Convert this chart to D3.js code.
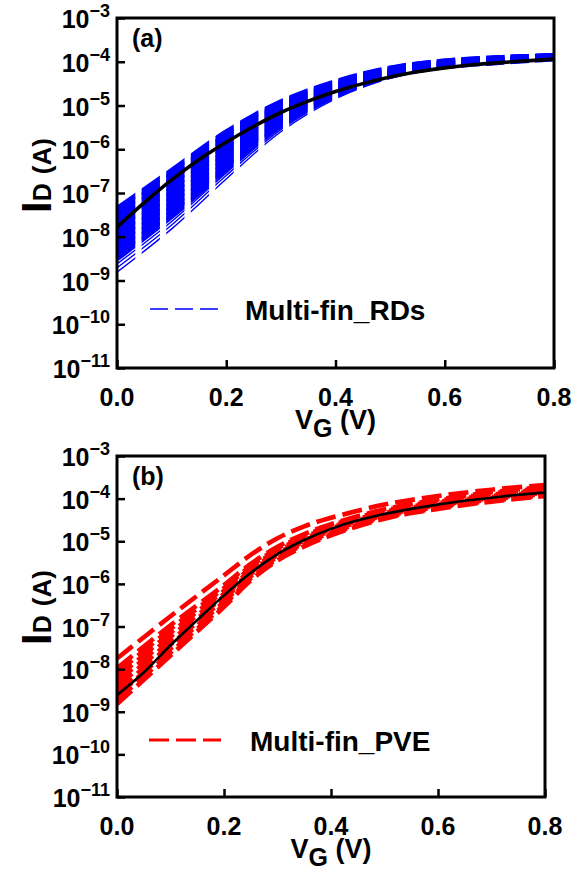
<!DOCTYPE html>
<html><head><meta charset="utf-8">
<script src="https://cdn.jsdelivr.net/npm/d3@7"></script>
<style>
body{margin:0;background:#fff}
text{font-family:"Liberation Sans",Arial,sans-serif;font-weight:bold;fill:#000}
</style>
</head><body>
<svg id="c" width="586" height="870"></svg>
<script>
// ---------- data ----------
const vgFine   = [0,0.05,0.1,0.15,0.2,0.25,0.3,0.35,0.4,0.45,0.5,0.55,0.6,0.65,0.7,0.75,0.8];
const vgCoarse = [0,0.1,0.2,0.3,0.4,0.5,0.6,0.7,0.8];
const vgRed    = [0,0.1,0.2,0.25,0.3,0.35,0.4,0.5,0.6,0.7,0.8];
const xTicks = [0,0.2,0.4,0.6,0.8];
const xTickLabels = ["0.0","0.2","0.4","0.6","0.8"];
const yTickExps = [-3,-4,-5,-6,-7,-8,-9,-10,-11];

// log10(I_D) of the reference (black) curves, on vgFine
const blackA = [-7.78,-7.22,-6.70,-6.24,-5.84,-5.48,-5.16,-4.90,-4.68,-4.50,-4.35,-4.23,-4.14,-4.07,-4.02,-3.98,-3.94];
const blackB = [-8.61,-8.08,-7.44,-6.85,-6.27,-5.74,-5.30,-4.97,-4.71,-4.51,-4.36,-4.24,-4.14,-4.05,-3.98,-3.91,-3.86];

// log10(I_D) of the Multi-fin_RDs curves, on vgCoarse
const rdsDense = [
  [-7.36,-6.49,-5.61,-4.92,-4.46,-4.15,-3.99,-3.91,-3.86],
  [-7.46,-6.58,-5.68,-4.96,-4.48,-4.16,-3.99,-3.91,-3.86],
  [-7.58,-6.69,-5.76,-5.01,-4.51,-4.18,-4.01,-3.92,-3.87],
  [-7.69,-6.79,-5.85,-5.07,-4.55,-4.20,-4.02,-3.93,-3.87],
  [-7.81,-6.90,-5.94,-5.12,-4.58,-4.22,-4.03,-3.95,-3.88],
  [-7.93,-7.01,-6.03,-5.18,-4.61,-4.24,-4.04,-3.96,-3.89],
  [-8.05,-7.12,-6.11,-5.24,-4.64,-4.26,-4.06,-3.97,-3.90],
  [-8.16,-7.23,-6.20,-5.29,-4.67,-4.27,-4.07,-3.98,-3.91],
  [-8.28,-7.33,-6.29,-5.35,-4.71,-4.29,-4.08,-3.99,-3.91],
  [-8.40,-7.44,-6.38,-5.40,-4.74,-4.31,-4.10,-4.00,-3.92],
  [-8.50,-7.53,-6.45,-5.45,-4.77,-4.33,-4.11,-4.01,-3.93]
];
const rdsSparse = [
  [-8.62,-7.65,-6.54,-5.51,-4.80,-4.35,-4.12,-4.02,-3.94],
  [-8.71,-7.73,-6.60,-5.55,-4.82,-4.36,-4.13,-4.03,-3.94],
  [-8.81,-7.82,-6.68,-5.60,-4.85,-4.38,-4.14,-4.04,-3.95]
];
// log10(I_D) of the Multi-fin_PVE curves, on vgRed
const pveCurves = [
  [-7.75,-6.76,-5.80,-5.32,-4.93,-4.65,-4.45,-4.14,-3.94,-3.79,-3.68],
  [-7.98,-6.97,-6.03,-5.53,-5.13,-4.83,-4.60,-4.25,-4.02,-3.85,-3.72],
  [-8.09,-7.06,-6.10,-5.58,-5.17,-4.87,-4.63,-4.28,-4.05,-3.88,-3.75],
  [-8.20,-7.15,-6.16,-5.63,-5.21,-4.90,-4.67,-4.31,-4.08,-3.91,-3.78],
  [-8.30,-7.24,-6.23,-5.68,-5.25,-4.94,-4.70,-4.34,-4.11,-3.94,-3.81],
  [-8.41,-7.34,-6.29,-5.73,-5.29,-4.98,-4.73,-4.37,-4.14,-3.97,-3.84],
  [-8.52,-7.43,-6.36,-5.77,-5.33,-5.01,-4.76,-4.39,-4.16,-3.99,-3.86],
  [-8.63,-7.52,-6.42,-5.82,-5.37,-5.05,-4.80,-4.42,-4.19,-4.02,-3.89],
  [-8.73,-7.61,-6.49,-5.87,-5.41,-5.08,-4.83,-4.45,-4.22,-4.05,-3.92],
  [-8.82,-7.68,-6.54,-5.92,-5.45,-5.12,-4.86,-4.47,-4.24,-4.07,-3.94]
];
const legendA = "Multi-fin_RDs";
const legendB = "Multi-fin_PVE";
const panelLabels = ["(a)","(b)"];

// ---------- drawing ----------
const svg = d3.select("#c");

function panel(o){
  const x = d3.scaleLinear().domain([0,0.8]).range([o.left,o.right]);
  const y = d3.scaleLog().domain([1e-11,1e-3]).range([o.bottom,o.top]);
  const g = svg.append("g");
  const line = d3.line().x(d=>x(d[0])).y(d=>y(Math.pow(10,d[1]))).curve(d3.curveCatmullRom.alpha(0.5));

  // dashed curves
  const cg = g.append("g");
  if (o.stripe) {
    // dash blocks aligned in x, as in the reference
    const cp = svg.append("clipPath").attr("id", o.id);
    d3.range(o.left, o.right, o.stripe[0]).forEach(x0 => {
      cp.append("rect").attr("x", x0).attr("y", o.top - 20)
        .attr("width", o.stripe[1]).attr("height", o.bottom - o.top + 40);
    });
    cg.attr("clip-path", `url(#${o.id})`);
  }
  o.curves.forEach(c=>{
    const p = cg.append("path").attr("d", line(o.vg.map((v,i)=>[v,c.vals[i]])))
      .attr("fill","none").attr("stroke",o.color).attr("stroke-width",c.w);
    if (!o.stripe) p.attr("stroke-dasharray",o.dash);
  });
  // black reference curve
  g.append("path").attr("d", line(vgFine.map((v,i)=>[v,o.black[i]])))
    .attr("fill","none").attr("stroke","#000").attr("stroke-width",o.blackW);

  // axes ticks
  const ya = d3.axisLeft(y).tickValues(yTickExps.map(e=>Math.pow(10,e))).tickSize(-8).tickFormat(()=> "");
  const ag = g.append("g").attr("transform",`translate(${o.left},0)`).call(ya);
  ag.select(".domain").remove();
  ag.selectAll("line").attr("stroke","#000").attr("stroke-width",2.5);
  const xa = d3.axisBottom(x).tickValues(xTicks).tickSize(-8).tickFormat(()=> "");
  const bg = g.append("g").attr("transform",`translate(0,${o.bottom})`).call(xa);
  bg.select(".domain").remove();
  bg.selectAll("line").attr("stroke","#000").attr("stroke-width",2.5);

  // frame
  g.append("rect").attr("x",o.left).attr("y",o.top).attr("width",o.right-o.left).attr("height",o.bottom-o.top)
    .attr("fill","none").attr("stroke","#000").attr("stroke-width",3);

  // y tick labels
  yTickExps.forEach(e=>{
    const t = g.append("text").attr("x",o.left-7).attr("y",y(Math.pow(10,e))+10).attr("text-anchor","end");
    t.append("tspan").attr("font-size",25).text("10");
    t.append("tspan").attr("font-size",18).attr("dy",-11).text("\u2212" + String(-e));
  });
  // x tick labels
  xTicks.forEach((v,i)=>{
    g.append("text").attr("x",x(v)).attr("y",o.bottom+38).attr("text-anchor","middle")
      .attr("font-size",25).text(xTickLabels[i]);
  });
  // x title
  const xt = g.append("text").attr("x",(o.left+o.right)/2).attr("y",o.bottom+61).attr("text-anchor","middle").attr("font-size",27);
  xt.append("tspan").text("V");
  xt.append("tspan").attr("font-size",25).attr("dy",8).text("G");
  xt.append("tspan").attr("dy",-8).text(" (V)");
  // y title
  const yt = g.append("text").attr("transform",`translate(51,${o.ytitleY}) rotate(-90)`).attr("text-anchor","start");
  yt.append("tspan").attr("font-size",42).text("I");
  yt.append("tspan").attr("font-size",25).text("D");
  yt.append("tspan").attr("font-size",26).attr("dx",9).text("(A)");

  // panel label
  g.append("text").attr("x",o.left+15).attr("y",o.top+29).attr("font-size",25).text(o.label);

  // legend
  g.append("line").attr("x1",o.legX1).attr("x2",o.legX2).attr("y1",o.legY).attr("y2",o.legY)
    .attr("stroke",o.color).attr("stroke-width",o.legW).attr("stroke-dasharray",o.legDash);
  g.append("text").attr("x",o.legTX).attr("y",o.legY+11).attr("font-size",28).text(o.legend);
}

panel({id:"clipA",left:117,right:554,top:18,bottom:368,color:"#0000ff",stripe:[24.6,18.3],vg:vgCoarse,
  curves: rdsDense.map(v=>({vals:v,w:5.5})).concat(rdsSparse.map(v=>({vals:v,w:1.4}))),
  black:blackA, blackW:3.6, ytitleY:213, label:panelLabels[0],
  legX1:150,legX2:218,legY:309,legW:1.3,legDash:"18,7",legTX:245,legend:legendA});

panel({id:"clipB",left:117,right:545,top:456,bottom:797,color:"#ff0000",dash:"20,7",vg:vgRed,
  curves: pveCurves.map(v=>({vals:v,w:4.6})),
  black:blackB, blackW:2.6, ytitleY:645, label:panelLabels[1],
  legX1:149,legX2:221,legY:740,legW:3,legDash:"20,7",legTX:250,legend:legendB});
</script>
</body></html>
